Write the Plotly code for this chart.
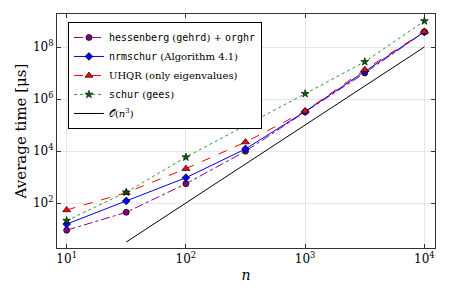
import plotly.graph_objects as go

n = [10, 31.6, 100, 316, 1000, 3162, 10000]
hess = [9, 44, 550, 9.8e3, 3.2e5, 1.0e7, 3.8e8]
nrm = [15.5, 120, 940, 1.2e4, 3.3e5, 1.15e7, 3.8e8]
uhqr = [54, 250, 2100, 2.2e4, 3.4e5, 1.35e7, 3.9e8]
schur = [21, 260, 5800, 9.4e4, 1.6e6, 2.7e7, 1.0e9]
on3_n = [31.6, 10000]
on3_t = [3.16, 1e8]

x_ticks = [10, 100, 1000, 10000]
x_ticktext = ["10<sup>1</sup>", "10<sup>2</sup>", "10<sup>3</sup>", "10<sup>4</sup>"]
y_ticks = [1e2, 1e4, 1e6, 1e8]
y_ticktext = ["10<sup>2</sup>", "10<sup>4</sup>", "10<sup>6</sup>", "10<sup>8</sup>"]

MONO = "font-family:'DejaVu Sans Mono'"
def tt(s):
    return f"<span style=\"{MONO}\">{s}</span>"

names = [
    f"{tt('hessenberg')} ({tt('gehrd')}) + {tt('orghr')}",
    f"{tt('nrmschur')} (Algorithm 4.1)",
    "UHQR (only eigenvalues)",
    f"{tt('schur')} ({tt('gees')})",
    "𝒪(<i>n</i><sup>3</sup>)",
]

fig = go.Figure()
fig.add_trace(go.Scatter(x=n, y=hess, name=names[0], mode="lines+markers",
    line=dict(color="#8b008b", width=1, dash="dashdot"),
    marker=dict(symbol="circle", size=6, color="#800080", line=dict(color="black", width=0.7))))
fig.add_trace(go.Scatter(x=n, y=nrm, name=names[1], mode="lines+markers",
    line=dict(color="#0000ff", width=1, dash="solid"),
    marker=dict(symbol="diamond", size=6, color="#0000ff", line=dict(color="black", width=0.7))))
fig.add_trace(go.Scatter(x=n, y=uhqr, name=names[2], mode="lines+markers",
    line=dict(color="#ff0000", width=1, dash="dash"),
    marker=dict(symbol="triangle-up", size=7, color="#ff0000", line=dict(color="black", width=0.7))))
fig.add_trace(go.Scatter(x=n, y=schur, name=names[3], mode="lines+markers",
    line=dict(color="#2e9a2e", width=1, dash="dot"),
    marker=dict(symbol="star", size=6, color="#006400", line=dict(color="black", width=0.6))))
fig.add_trace(go.Scatter(x=on3_n, y=on3_t, name=names[4], mode="lines",
    line=dict(color="black", width=1)))

axis_common = dict(type="log", showline=True, linecolor="#333", linewidth=1, mirror="ticks",
                   ticks="inside", ticklen=4, tickcolor="#333", showgrid=True,
                   gridcolor="#e6e6e6", gridwidth=1, zeroline=False, automargin=False,
                   tickfont=dict(family="DejaVu Serif", size=12, color="black"))

fig.update_xaxes(range=[0.919, 4.089], tickvals=x_ticks, ticktext=x_ticktext,
                 title=dict(text="<i>n</i>", font=dict(family="DejaVu Serif", size=14, color="black"), standoff=4),
                 **axis_common)
fig.update_yaxes(range=[0.27, 9.27], tickvals=y_ticks, ticktext=y_ticktext,
                 title=dict(text="Average time [μs]", font=dict(family="DejaVu Serif", size=15, color="black"), standoff=2),
                 **axis_common)

fig.update_layout(
    width=450, height=300,
    margin=dict(l=57, r=15, t=14, b=52),
    paper_bgcolor="white", plot_bgcolor="white",
    font=dict(family="DejaVu Serif", color="black"),
    legend=dict(x=0.029, y=0.966, xanchor="left", yanchor="top",
                bgcolor="white", bordercolor="black", borderwidth=1,
                font=dict(family="DejaVu Serif", size=10, color="black"),
                tracegroupgap=0, itemwidth=30),
    showlegend=True,
)

fig.write_html("out.html", config={"displayModeBar": False},
               post_script="document.body.style.margin='0';document.body.style.overflow='hidden';")
